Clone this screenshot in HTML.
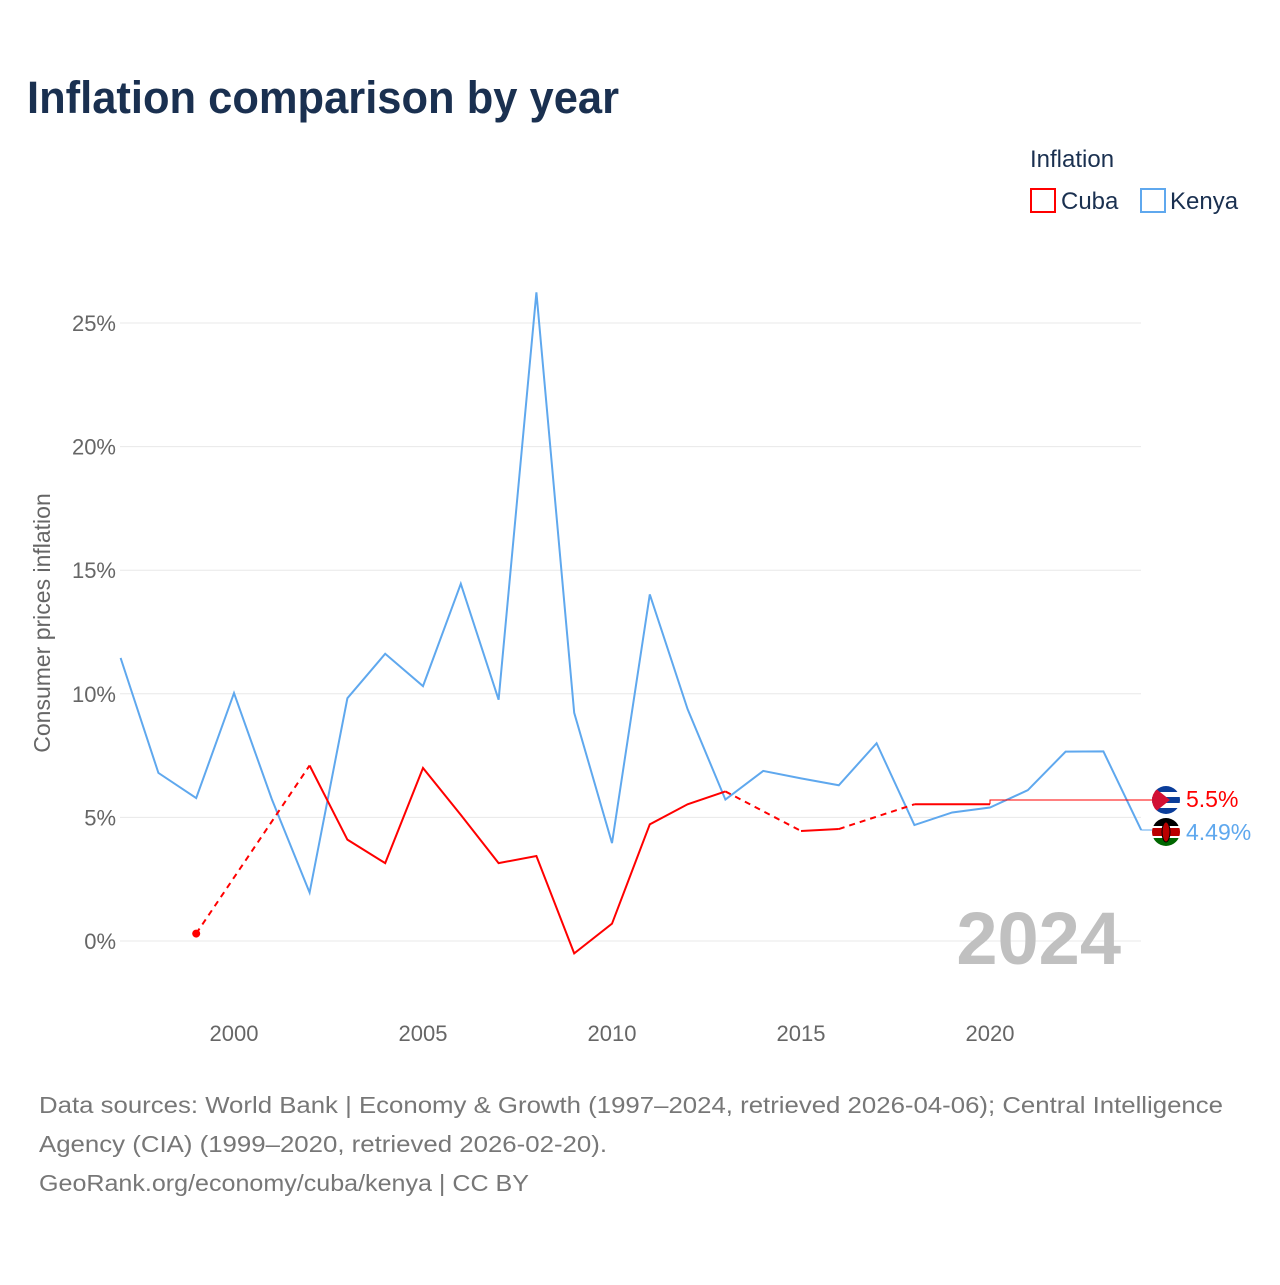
<!DOCTYPE html>
<html><head><meta charset="utf-8"><style>
body{margin:0;background:#fff;font-family:"Liberation Sans",sans-serif}
svg text{font-family:"Liberation Sans",sans-serif}
</style></head><body>
<svg width="1280" height="1280" xmlns="http://www.w3.org/2000/svg">
<text x="27" y="113" font-size="45" font-weight="bold" fill="#1a3050" textLength="592" lengthAdjust="spacingAndGlyphs">Inflation comparison by year</text>
<g>
<text x="1030" y="167" font-size="24" fill="#1a3050">Inflation</text>
<g><rect x="1031" y="189" width="24" height="23" fill="none" stroke="#f00" stroke-width="2"/><text x="1061" y="209" font-size="24" fill="#1a3050">Cuba</text></g>
<g><rect x="1141" y="189" width="24" height="23" fill="none" stroke="#5fa8ee" stroke-width="2"/><text x="1170" y="209" font-size="24" fill="#1a3050">Kenya</text></g>
</g>
<text transform="translate(50,623) rotate(-90)" text-anchor="middle" font-size="23" fill="#666">Consumer prices inflation</text>
<g id="grid"></g><g id="xt"></g><g id="series"></g>
<text x="1121" y="964" text-anchor="end" font-size="74" font-weight="bold" fill="#c0c0c0">2024</text>
<g>
<clipPath id="c1"><circle cx="1166" cy="800" r="14"/></clipPath>
<g clip-path="url(#c1)"><rect x="1150" y="784" width="32" height="32" fill="#fff"/><rect x="1150" y="786" width="32" height="6" fill="#0a3d9a"/><rect x="1150" y="797" width="32" height="6" fill="#0a3d9a"/><rect x="1150" y="808" width="32" height="6" fill="#0a3d9a"/><polygon points="1150,784 1170,800 1150,816" fill="#d21034"/></g></g>
<g>
<clipPath id="c2"><circle cx="1166" cy="832" r="14"/></clipPath>
<g clip-path="url(#c2)"><rect x="1150" y="816" width="32" height="10" fill="#000"/><rect x="1150" y="826" width="32" height="12" fill="#fff"/><rect x="1150" y="828" width="32" height="8" fill="#b00"/><rect x="1150" y="838" width="32" height="12" fill="#060"/><ellipse cx="1166" cy="832" rx="4" ry="10" fill="#b00" stroke="#000" stroke-width="1"/></g></g>
<text x="1186" y="807" font-size="23" fill="#f00">5.5%</text>
<text x="1186" y="840" font-size="23" fill="#5fa8ee">4.49%</text>
<g font-size="23" fill="#777">
<text x="39" y="1113" textLength="1184" lengthAdjust="spacingAndGlyphs">Data sources: World Bank | Economy &amp; Growth (1997–2024, retrieved 2026-04-06); Central Intelligence</text>
<text x="39" y="1152" textLength="568" lengthAdjust="spacingAndGlyphs">Agency (CIA) (1999–2020, retrieved 2026-02-20).</text>
<text x="39" y="1191" textLength="490" lengthAdjust="spacingAndGlyphs">GeoRank.org/economy/cuba/kenya | CC BY</text>
</g>
</svg>
<script>
const years=[1997,1998,1999,2000,2001,2002,2003,2004,2005,2006,2007,2008,2009,2010,2011,2012,2013,2014,2015,2016,2017,2018,2019,2020,2021,2022,2023,2024];
const kenya=[11.45,6.8,5.78,10.03,5.74,1.96,9.82,11.62,10.31,14.45,9.76,26.24,9.23,3.96,14.02,9.38,5.72,6.88,6.58,6.3,8.0,4.69,5.2,5.4,6.1,7.66,7.67,4.49];
const cuba=[null,null,0.3,null,null,7.1,4.1,3.15,7.0,5.1,3.15,3.44,-0.5,0.7,4.72,5.53,6.05,null,4.45,4.53,null,5.53,5.53,5.53,null,null,null,null];
const yTicks=[0,5,10,15,20,25];
const xTicks=[2000,2005,2010,2015,2020];
const NS="http://www.w3.org/2000/svg";
const X=y=>120.6+(y-1997)*37.8;
const Y=v=>941-v*24.72;
function mk(t,a,p){const e=document.createElementNS(NS,t);for(const k in a)e.setAttribute(k,a[k]);p.appendChild(e);return e;}
const grid=document.getElementById('grid');
yTicks.forEach(v=>{
 const l=mk('line',{x1:120,x2:1141,y1:Y(v),y2:Y(v),stroke:'#e8e8e8','stroke-width':1},grid);
 
 
 const t=mk('text',{x:116,y:Y(v)+8,'text-anchor':'end','font-size':22,fill:'#666'},grid);
 t.textContent=v+'%';
 
 
});
const xt=document.getElementById('xt');
xTicks.forEach(v=>{
 const t=mk('text',{x:X(v),y:1041,'text-anchor':'middle','font-size':22,fill:'#666'},xt);
 t.textContent=v;
 
 
});
const S=document.getElementById('series');
function draw(vals,color,name){
 const pts=[];vals.forEach((v,i)=>{if(v!==null)pts.push([years[i],v]);});
 let seg=[pts[0]];
 const flush=()=>{if(seg.length>1){const p=mk('polyline',{points:seg.map(q=>X(q[0])+','+Y(q[1])).join(' '),fill:'none',stroke:color,'stroke-width':2},S);
 
 }};
 for(let i=1;i<pts.length;i++){
  const a=pts[i-1],b=pts[i];
  if(b[0]-a[0]===1){seg.push(b);}
  else{flush();seg=[b];
   const d=mk('line',{x1:X(a[0]),y1:Y(a[1]),x2:X(b[0]),y2:Y(b[1]),stroke:color,'stroke-width':2,'stroke-dasharray':'6,5'},S);
   
   }
 }
 flush();
 return pts;
}
draw(kenya,'#5fa8ee','kenya');
const cp=draw(cuba,'#f00','cuba');
const dot=mk('circle',{cx:X(cp[0][0]),cy:Y(cp[0][1]),r:4,fill:'#f00'},S);


const last=cp[cp.length-1];
const c=mk('polyline',{points:`${X(last[0])},${Y(last[1])} ${X(last[0])},800 1152,800`,fill:'none',stroke:'#f00','stroke-width':1},S);


const k=mk('polyline',{points:`${X(2024)},${Y(kenya[27])} 1152,${Y(kenya[27])}`,fill:'none',stroke:'#5fa8ee','stroke-width':1},S);


</script>
</body></html>
